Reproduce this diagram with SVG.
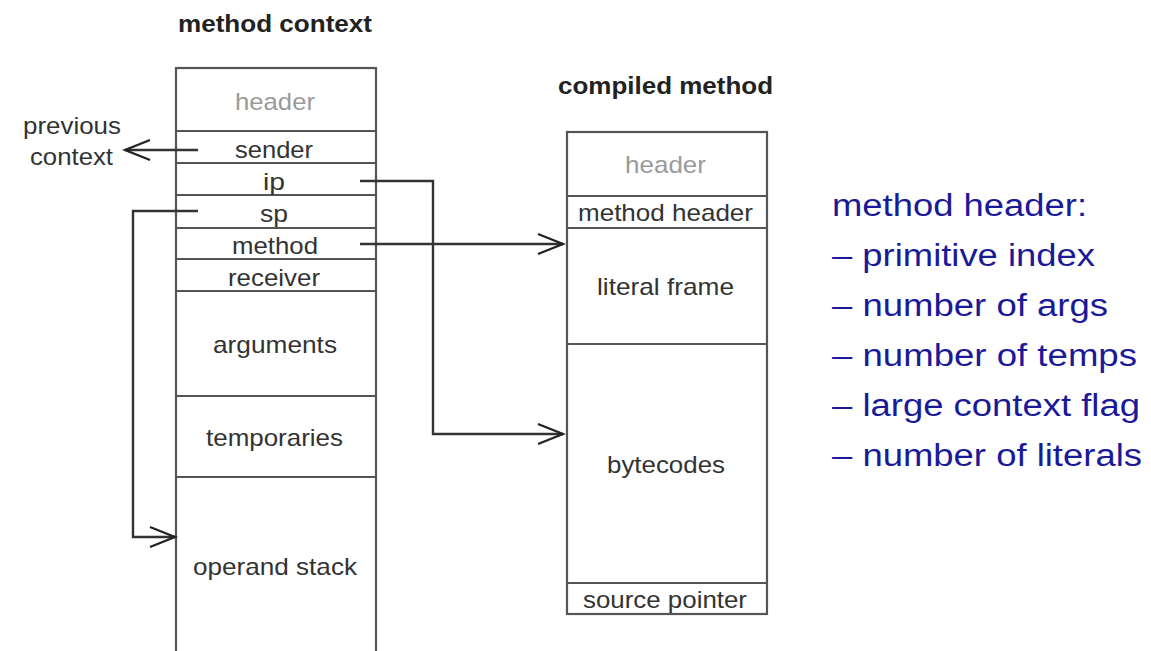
<svg xmlns="http://www.w3.org/2000/svg" width="1151" height="651" viewBox="0 0 1151 651">
<style>
.box{fill:#fff;stroke:#555;stroke-width:2.2}
.sep{stroke:#555;stroke-width:2.2;fill:none}
.lbl{font-family:"Liberation Sans",Arial,sans-serif;font-size:24px;fill:#333;text-anchor:start}
.hdr{font-family:"Liberation Sans",Arial,sans-serif;font-size:24px;fill:#9a9a9a}
.ttl{font-family:"Liberation Sans",Arial,sans-serif;font-size:24px;font-weight:bold;fill:#222}
.blue{font-family:"Liberation Sans",Arial,sans-serif;font-size:31px;fill:#1a1a99}
.con{fill:none;stroke:#333;stroke-width:2.4;marker-end:url(#arr)}
</style>
<defs>
<marker id="arr" markerUnits="userSpaceOnUse" markerWidth="30" markerHeight="26" refX="27" refY="13" orient="auto">
<path d="M2,3 L27,13 L2,23" fill="none" stroke="#222" stroke-width="2.4"/>
</marker>
</defs>
<rect width="1151" height="651" fill="#fff"/>

<g id="method-context">
<text class="ttl" x="178" y="32" textLength="194" lengthAdjust="spacingAndGlyphs">method context</text>
<rect class="box" x="176" y="68" width="200" height="590"/>
<path class="sep" d="M176,131H376M176,163H376M176,195H376M176,228H376M176,259H376M176,291H376M176,396H376M176,477H376"/>
<text class="hdr" x="235" y="110" textLength="80" lengthAdjust="spacingAndGlyphs">header</text>
<text class="lbl" x="235" y="158" textLength="78" lengthAdjust="spacingAndGlyphs">sender</text>
<text class="lbl" x="263" y="190" textLength="22" lengthAdjust="spacingAndGlyphs">ip</text>
<text class="lbl" x="260" y="222" textLength="28" lengthAdjust="spacingAndGlyphs">sp</text>
<text class="lbl" x="232" y="254" textLength="86" lengthAdjust="spacingAndGlyphs">method</text>
<text class="lbl" x="228" y="286" textLength="92" lengthAdjust="spacingAndGlyphs">receiver</text>
<text class="lbl" x="213" y="353" textLength="124" lengthAdjust="spacingAndGlyphs">arguments</text>
<text class="lbl" x="206" y="446" textLength="137" lengthAdjust="spacingAndGlyphs">temporaries</text>
<text class="lbl" x="193" y="575" textLength="164" lengthAdjust="spacingAndGlyphs">operand stack</text>
</g>

<g id="previous-context">
<text class="lbl" x="23" y="134" textLength="98" lengthAdjust="spacingAndGlyphs">previous</text>
<text class="lbl" x="30" y="165" textLength="83" lengthAdjust="spacingAndGlyphs">context</text>
</g>

<g id="compiled-method">
<text class="ttl" x="558" y="94" textLength="215" lengthAdjust="spacingAndGlyphs">compiled method</text>
<rect class="box" x="567" y="132" width="200" height="482"/>
<path class="sep" d="M567,196H767M567,228H767M567,344H767M567,583H767"/>
<text class="hdr" x="625" y="173" textLength="81" lengthAdjust="spacingAndGlyphs">header</text>
<text class="lbl" x="578" y="221" textLength="175" lengthAdjust="spacingAndGlyphs">method header</text>
<text class="lbl" x="597" y="295" textLength="137" lengthAdjust="spacingAndGlyphs">literal frame</text>
<text class="lbl" x="607" y="473" textLength="118" lengthAdjust="spacingAndGlyphs">bytecodes</text>
<text class="lbl" x="583" y="608" textLength="164" lengthAdjust="spacingAndGlyphs">source pointer</text>
</g>

<g id="method-header-notes">
<text class="blue" x="832" y="216" textLength="255" lengthAdjust="spacingAndGlyphs">method header:</text>
<text class="blue" x="832" y="266" textLength="263" lengthAdjust="spacingAndGlyphs">– primitive index</text>
<text class="blue" x="832" y="316" textLength="276" lengthAdjust="spacingAndGlyphs">– number of args</text>
<text class="blue" x="832" y="366" textLength="305" lengthAdjust="spacingAndGlyphs">– number of temps</text>
<text class="blue" x="832" y="416" textLength="308" lengthAdjust="spacingAndGlyphs">– large context flag</text>
<text class="blue" x="832" y="466" textLength="310" lengthAdjust="spacingAndGlyphs">– number of literals</text>
</g>

<g id="connectors">
<path class="con" d="M198,150H125"/>
<path class="con" d="M360,181H433V434H563"/>
<path class="con" d="M360,244H563"/>
<path class="con" d="M198,211H133V537H175"/>
</g>
</svg>
